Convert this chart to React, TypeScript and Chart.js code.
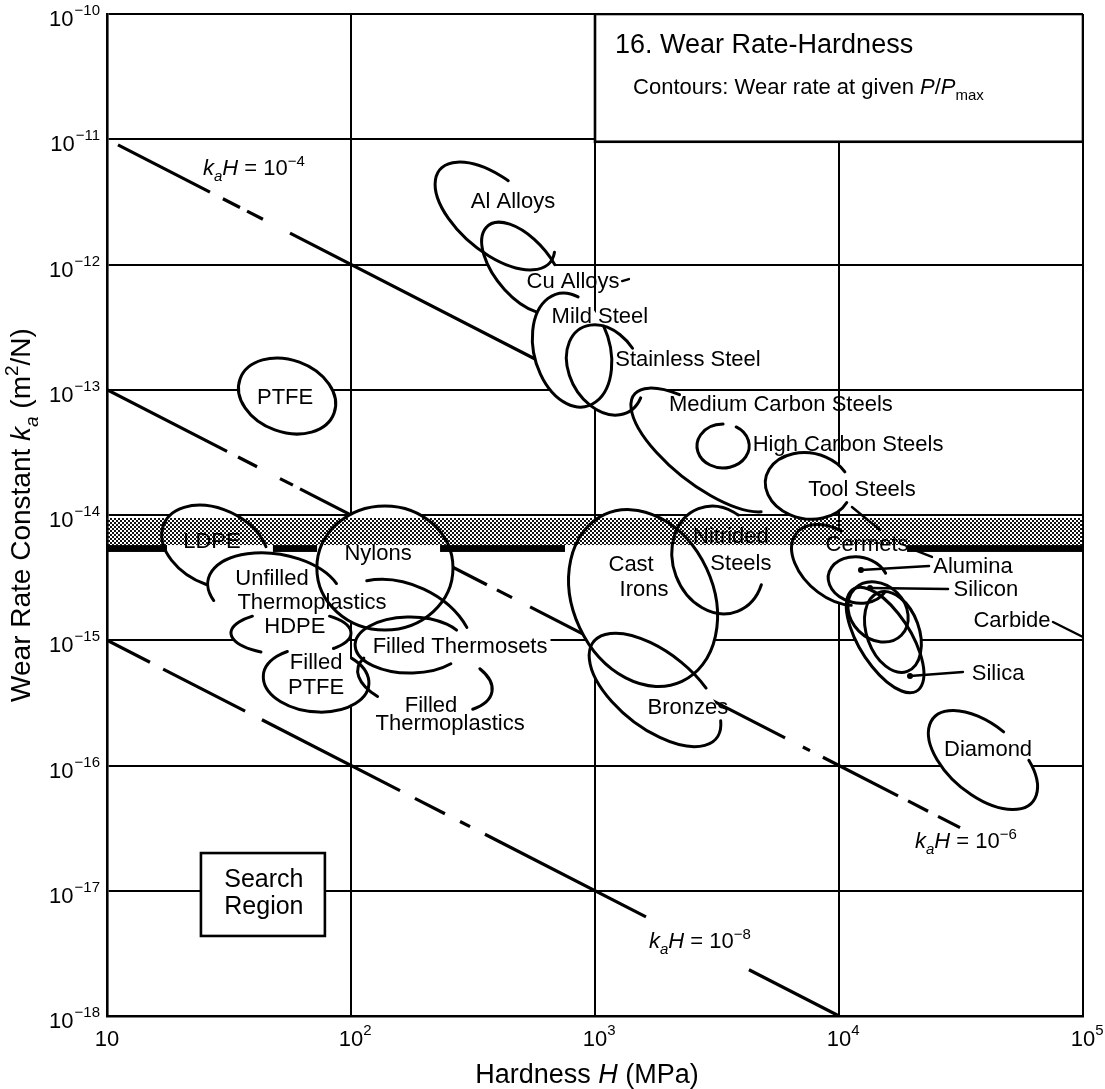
import React, { useEffect, useRef } from "react";
import { Chart, registerables } from "chart.js";
Chart.register(...registerables);

const FONT = '"Liberation Sans", Arial, Helvetica, sans-serif';

// ---- axes ----
const X_TICKS = [10, 100, 1000, 10000, 100000];
const X_TICK_EXP = ["", "2", "3", "4", "5"];
const Y_TICKS = [1e-18, 1e-17, 1e-16, 1e-15, 1e-14, 1e-13, 1e-12, 1e-11, 1e-10];
const Y_TICK_EXP = ["−18", "−17", "−16", "−15", "−14", "−13", "−12", "−11", "−10"];

// ---- constant k_a·H guide lines (k_a H, H in Pa) ----
const KH_VALUES = [1e-4, 1e-6, 1e-8];
const KH_EXP = ["−4", "−6", "−8"];
// drawn stretches of each guide line, as [log10 H start, log10 H end]
const KH1_SEGMENTS = [[1.045, 1.422], [1.475, 1.545], [1.574, 1.639], [1.75, 2.898]];
const KH2_SEGMENTS = [[1.0, 1.492], [1.537, 1.615], [1.709, 1.762], [1.791, 2.557], [2.598, 2.66], [2.734, 3.779], [3.852, 3.881], [3.934, 4.242], [4.283, 4.365], [4.406, 4.496]];
const KH3_SEGMENTS = [[1.0, 1.176], [1.23, 1.566], [1.635, 2.201], [2.262, 2.385], [2.447, 2.488], [2.549, 3.209], [3.631, 4.0]];
// label anchors [log10 H, log10 k]
const KH_LABEL_POS = [[1.393, -11.222], [4.311, -16.595], [3.221, -17.393]];

// ---- material regions ----
const REGION_NAMES = ["Al Alloys", "Cu Alloys", "Mild Steel", "Stainless Steel", "Medium Carbon Steels", "High Carbon Steels", "Tool Steels", "Cermets", "Alumina", "Silicon Carbide (a)", "Silicon Carbide (b)", "Silica", "Diamond", "Cast Irons", "Bronzes", "Nitrided Steels", "LDPE", "Nylons", "Unfilled Thermoplastics", "HDPE", "Filled PTFE", "Filled Thermosets", "Filled Thermosets (outer)", "Filled Thermoplastics", "PTFE"];
const REGION_LOG_H = [2.59, 2.705, 2.906, 3.041, 3.451, 3.525, 3.873, 3.984, 4.078, 4.16, 4.221, 4.189, 4.59, 3.197, 3.246, 3.504, 1.443, 2.139, 1.689, 1.754, 1.857, 2.242, 2.201, 2.303, 1.738];
const REGION_LOG_K = [-11.613, -12.028, -12.683, -12.842, -13.481, -13.449, -13.768, -14.399, -14.519, -14.774, -14.934, -14.998, -15.956, -14.663, -15.397, -14.359, -14.256, -14.423, -14.615, -14.942, -15.317, -15.038, -14.998, -15.317, -13.05];
// semi-axes in decades
const REGION_A = [0.295, 0.225, 0.238, 0.197, 0.369, 0.107, 0.176, 0.205, 0.123, 0.135, 0.172, 0.246, 0.266, 0.377, 0.32, 0.225, 0.23, 0.279, 0.279, 0.246, 0.217, 0.225, 0.32, 0.279, 0.205];
const REGION_B = [0.148, 0.115, 0.156, 0.143, 0.143, 0.09, 0.135, 0.131, 0.094, 0.111, 0.107, 0.107, 0.143, 0.287, 0.156, 0.184, 0.156, 0.254, 0.156, 0.09, 0.131, 0.115, 0.23, 0.131, 0.148];
const REGION_TILT = [40, 50, 75, 60, 38, 0, 10, 40, 10, 45, 70, 58, 40, 65, 38, 70, 25, 0, 10, 0, 5, 0, 25, 10, 20];
const REGION_ARCS: number[][][] = [
  [[-17, 260]], [[40, 289]], [[-105, 211]], [[-29, 264]], [[24, 233]], [[-60, 270]], [[17, 322]], [[40, 250]],
  [[20, 330]], [[0, 360]], [[0, 360]], [[-60, 300]], [[-57, 268]], [[0, 360]], [[-25, 300]], [[-46, 230]],
  [[82, 325]], [[0, 360]], [[150, 330]], [[120, 230], [-50, 45]], [[-51, 234]], [[42, 328]], [[225, 315]], [[-40, 40], [130, 200]], [[0, 360]],
];
const REGION_FILLED = [1, 1, 1, 1, 1, 1, 1, 1, 1, 1, 1, 1, 1, 1, 1, 1, 1, 1, 1, 1, 1, 1, 0, 0, 1];

// ---- region labels ----
const LABEL_TEXT = ["Al Alloys", "Cu Alloys", "Mild Steel", "Stainless Steel", "Medium Carbon Steels", "High Carbon Steels", "Tool Steels", "Cermets", "Alumina", "Silicon", "Carbide", "Silica", "Diamond", "Cast", "Irons", "Nitrided", "Steels", "Bronzes", "LDPE", "Nylons", "Unfilled", "Thermoplastics", "HDPE", "Filled Thermosets", "Filled", "PTFE", "Filled", "Thermoplastics", "PTFE"];
const LABEL_LOG_H = [2.664, 2.91, 3.02, 3.381, 3.762, 4.037, 4.094, 4.115, 4.549, 4.602, 4.709, 4.652, 4.611, 3.148, 3.201, 3.557, 3.598, 3.381, 1.43, 2.111, 1.676, 1.84, 1.77, 2.447, 1.857, 1.857, 2.328, 2.406, 1.73];
const LABEL_LOG_K = [-11.485, -12.124, -12.403, -12.747, -13.106, -13.425, -13.784, -14.224, -14.399, -14.583, -14.83, -15.253, -15.86, -14.383, -14.583, -14.16, -14.375, -15.525, -14.2, -14.295, -14.495, -14.687, -14.878, -15.038, -15.166, -15.365, -15.509, -15.653, -13.05];
const LABEL_BG = [0, 0, 0, 0, 0, 0, 0, 0, 0, 0, 0, 0, 0, 0, 0, 0, 0, 0, 0, 0, 0, 0, 0, 1, 0, 0, 0, 0, 0];

// ---- leader lines [logH1, logK1, logH2, logK2, dot] ----
const LEADERS = [
  [4.09, -14.439, 4.369, -14.407, 1],
  [4.127, -14.583, 4.447, -14.591, 1],
  [4.877, -14.854, 5.0, -14.974, 0],
  [4.291, -15.285, 4.508, -15.253, 1],
  [4.279, -14.256, 4.381, -14.335, 0],
  [4.053, -13.936, 4.168, -14.12, 0],
  [3.111, -12.132, 3.139, -12.116, 0],
];

// ---- search band ----
const BAND_LOG_K = [-14.024, -14.24];
const BAND_EDGE_LOG_K = [-14.24, -14.295];
const BAND_EDGE_SEGMENTS = [[1.0, 1.246], [1.68, 1.861], [2.365, 2.877], [4.279, 5.0]];

// ---- boxes ----
const TITLE_BOX = [3.0, 5.0, -10.0, -11.02]; // logH min,max, logK top,bottom
const TITLE_TEXT = "16. Wear Rate-Hardness";
const TITLE_POS = [3.082, -10.232];
const SUBTITLE_POS = [3.156, -10.575];
const SEARCH_BOX = [1.385, 1.893, -16.699, -17.361];
const SEARCH_TEXT = ["Search", "Region"];
const SEARCH_POS = [[1.643, -16.898], [1.643, -17.114]];

type Part = { t: string; i?: boolean; sub?: boolean; sup?: boolean };

function fontOf(p: Part, size: number) {
  return `${p.i ? "italic " : ""}${p.sub || p.sup ? Math.round(size * 0.68) : size}px ${FONT}`;
}
function measureParts(ctx: CanvasRenderingContext2D, parts: Part[], size: number) {
  let w = 0;
  for (const p of parts) { ctx.font = fontOf(p, size); w += ctx.measureText(p.t).width; }
  return w;
}
function drawParts(ctx: CanvasRenderingContext2D, parts: Part[], x: number, y: number, size: number, align: "left" | "center" | "right") {
  const w = measureParts(ctx, parts, size);
  let cx = align === "left" ? x : align === "center" ? x - w / 2 : x - w;
  ctx.textAlign = "left";
  ctx.textBaseline = "alphabetic";
  for (const p of parts) {
    ctx.font = fontOf(p, size);
    const dy = p.sub ? size * 0.28 : p.sup ? -size * 0.42 : 0;
    ctx.fillText(p.t, cx, y + dy);
    cx += ctx.measureText(p.t).width;
  }
  return w;
}

function lineData(kh: number, segs: number[][]) {
  const pts: { x: number; y: number | null }[] = [];
  for (const [a, b] of segs) {
    const h1 = Math.pow(10, a), h2 = Math.pow(10, b);
    pts.push({ x: h1, y: kh / (h1 * 1e6) });
    pts.push({ x: h2, y: kh / (h2 * 1e6) });
    pts.push({ x: h2 * 1.001, y: null });
  }
  return pts;
}

let bandPattern: CanvasPattern | null = null;
function getPattern(ctx: CanvasRenderingContext2D) {
  if (bandPattern) return bandPattern;
  const c = document.createElement("canvas");
  c.width = 4; c.height = 4;
  const g = c.getContext("2d")!;
  g.fillStyle = "#111";
  g.fillRect(0, 0, 2, 2);
  g.fillRect(2, 2, 2, 2);
  bandPattern = ctx.createPattern(c, "repeat");
  return bandPattern!;
}

const mapPlugin = {
  id: "wearMap",
  afterDatasetsDraw(chart: any) {
    const { ctx, chartArea } = chart;
    const xs = chart.scales.x, ys = chart.scales.y;
    const px = (lh: number) => xs.getPixelForValue(Math.pow(10, lh));
    const py = (lk: number) => ys.getPixelForValue(Math.pow(10, lk));
    const dec = px(2) - px(1);
    const rad = Math.PI / 180;
    const LS = 22;
    ctx.save();
    ctx.beginPath();
    ctx.rect(chartArea.left, chartArea.top, chartArea.right - chartArea.left, chartArea.bottom - chartArea.top);
    ctx.clip();

    // white fills of regions
    ctx.fillStyle = "#fff";
    for (let i = 0; i < REGION_NAMES.length; i++) {
      if (!REGION_FILLED[i]) continue;
      ctx.beginPath();
      ctx.ellipse(px(REGION_LOG_H[i]), py(REGION_LOG_K[i]), REGION_A[i] * dec, REGION_B[i] * dec, REGION_TILT[i] * rad, 0, Math.PI * 2);
      ctx.fill();
    }
    // label backgrounds
    for (let i = 0; i < LABEL_TEXT.length; i++) {
      if (!LABEL_BG[i]) continue;
      ctx.font = `${LS}px ${FONT}`;
      const w = ctx.measureText(LABEL_TEXT[i]).width;
      const cx = px(LABEL_LOG_H[i]), cy = py(LABEL_LOG_K[i]);
      ctx.fillStyle = "#fff";
      ctx.fillRect(cx - w / 2 - 3, cy - LS * 0.55, w + 6, LS * 1.1);
    }

    // search band
    const bx0 = chartArea.left, bx1 = chartArea.right;
    ctx.fillStyle = getPattern(ctx);
    const bt = py(BAND_LOG_K[0]), bb = py(BAND_LOG_K[1]);
    ctx.fillRect(bx0, bt, bx1 - bx0, bb - bt);
    ctx.fillStyle = "#000";
    const et = py(BAND_EDGE_LOG_K[0]), eb = py(BAND_EDGE_LOG_K[1]);
    for (const [a, b] of BAND_EDGE_SEGMENTS) ctx.fillRect(px(a), et, px(b) - px(a), eb - et);

    // title box & search box
    for (const bx of [TITLE_BOX, SEARCH_BOX]) {
      const x0 = px(bx[0]), x1 = px(bx[1]), y0 = py(bx[2]), y1 = py(bx[3]);
      ctx.fillStyle = "#fff";
      ctx.fillRect(x0, y0, x1 - x0, y1 - y0);
      ctx.strokeStyle = "#000";
      ctx.lineWidth = 2.6;
      ctx.strokeRect(x0, y0, x1 - x0, y1 - y0);
    }

    // outlines
    ctx.strokeStyle = "#000";
    ctx.lineWidth = 3;
    ctx.lineCap = "round";
    for (let i = 0; i < REGION_NAMES.length; i++) {
      for (const [s, e] of REGION_ARCS[i]) {
        ctx.beginPath();
        ctx.ellipse(px(REGION_LOG_H[i]), py(REGION_LOG_K[i]), REGION_A[i] * dec, REGION_B[i] * dec, REGION_TILT[i] * rad, s * rad, e * rad);
        ctx.stroke();
      }
    }

    // leaders
    ctx.lineWidth = 2.4;
    for (const l of LEADERS) {
      ctx.beginPath();
      ctx.moveTo(px(l[0]), py(l[1]));
      ctx.lineTo(px(l[2]), py(l[3]));
      ctx.stroke();
      if (l[4]) {
        ctx.beginPath();
        ctx.arc(px(l[0]), py(l[1]), 3, 0, Math.PI * 2);
        ctx.fillStyle = "#000";
        ctx.fill();
      }
    }

    // region labels
    ctx.fillStyle = "#000";
    for (let i = 0; i < LABEL_TEXT.length; i++) {
      drawParts(ctx, [{ t: LABEL_TEXT[i] }], px(LABEL_LOG_H[i]), py(LABEL_LOG_K[i]) + LS * 0.36, LS, "center");
    }

    // k_a H labels
    for (let i = 0; i < KH_VALUES.length; i++) {
      drawParts(ctx, [{ t: "k", i: true }, { t: "a", i: true, sub: true }, { t: "H", i: true }, { t: " = 10" }, { t: KH_EXP[i], sup: true }],
        px(KH_LABEL_POS[i][0]), py(KH_LABEL_POS[i][1]) + 22 * 0.36, 22, "left");
    }

    // title box text
    drawParts(ctx, [{ t: TITLE_TEXT }], px(TITLE_POS[0]), py(TITLE_POS[1]) + 27 * 0.36, 27, "left");
    drawParts(ctx, [{ t: "Contours: Wear rate at given " }, { t: "P", i: true }, { t: "/" }, { t: "P", i: true }, { t: "max", sub: true }],
      px(SUBTITLE_POS[0]), py(SUBTITLE_POS[1]) + 22 * 0.36, 22, "left");
    for (let i = 0; i < SEARCH_TEXT.length; i++) {
      drawParts(ctx, [{ t: SEARCH_TEXT[i] }], px(SEARCH_POS[i][0]), py(SEARCH_POS[i][1]) + 25 * 0.36, 25, "center");
    }
    ctx.restore();
  },
  afterDraw(chart: any) {
    const { ctx, chartArea } = chart;
    const xs = chart.scales.x, ys = chart.scales.y;
    ctx.save();
    ctx.fillStyle = "#000";
    // y tick labels
    for (let i = 0; i < Y_TICKS.length; i++) {
      const y = ys.getPixelForValue(Y_TICKS[i]);
      ctx.font = `15px ${FONT}`;
      const ew = ctx.measureText(Y_TICK_EXP[i]).width;
      const ex = chartArea.left - 7 - ew;
      ctx.textAlign = "left";
      ctx.textBaseline = "alphabetic";
      ctx.fillText(Y_TICK_EXP[i], ex, y + 1);
      ctx.font = `22px ${FONT}`;
      ctx.textAlign = "right";
      ctx.fillText("10", ex - 1, y + 12);
    }
    // x tick labels
    for (let i = 0; i < X_TICKS.length; i++) {
      const x = xs.getPixelForValue(X_TICKS[i]);
      ctx.font = `22px ${FONT}`;
      ctx.textAlign = "center";
      ctx.textBaseline = "alphabetic";
      const w = ctx.measureText("10").width;
      ctx.fillText("10", x, chartArea.bottom + 30);
      if (X_TICK_EXP[i]) {
        ctx.font = `15px ${FONT}`;
        ctx.textAlign = "left";
        ctx.fillText(X_TICK_EXP[i], x + w / 2, chartArea.bottom + 19);
      }
    }
    // axis titles
    drawParts(ctx, [{ t: "Hardness " }, { t: "H", i: true }, { t: " (MPa)" }], (chartArea.left + chartArea.right) / 2 - 8, chartArea.bottom + 67, 27, "center");
    ctx.translate(30, (chartArea.top + chartArea.bottom) / 2);
    ctx.rotate(-Math.PI / 2);
    drawParts(ctx, [{ t: "Wear Rate Constant " }, { t: "k", i: true }, { t: "a", i: true, sub: true }, { t: " (m" }, { t: "2", sup: true }, { t: "/N)" }], 0, 0, 28, "center");
    ctx.restore();
  },
};

export default function App() {
  const ref = useRef<HTMLCanvasElement>(null);
  useEffect(() => {
    const segs = [KH1_SEGMENTS, KH2_SEGMENTS, KH3_SEGMENTS];
    const chart = new Chart(ref.current!, {
      type: "line",
      data: {
        datasets: KH_VALUES.map((kh, i) => ({
          label: `kaH = 1e${Math.log10(kh)}`,
          data: lineData(kh, segs[i]) as any,
          borderColor: "#000",
          borderWidth: 3.2,
          pointRadius: 0,
          spanGaps: false,
          tension: 0,
          borderCapStyle: "butt" as const,
        })),
      },
      options: {
        responsive: false,
        animation: false,
        devicePixelRatio: 1,
        parsing: false as any,
        layout: { padding: { top: 14, right: 22, left: 0, bottom: 0 } },
        plugins: { legend: { display: false }, tooltip: { enabled: false } },
        scales: {
          x: {
            type: "logarithmic",
            min: 10,
            max: 100000,
            afterBuildTicks: (s: any) => { s.ticks = X_TICKS.map((v) => ({ value: v })); },
            afterFit: (s: any) => { s.height = 73; },
            ticks: { display: false },
            grid: { color: "#000", lineWidth: 2, drawTicks: false },
            border: { color: "#000", width: 2.6 },
          },
          y: {
            type: "logarithmic",
            min: 1e-18,
            max: 1e-10,
            afterBuildTicks: (s: any) => { s.ticks = Y_TICKS.map((v) => ({ value: v })); },
            afterFit: (s: any) => { s.width = 107; },
            ticks: { display: false },
            grid: { color: "#000", lineWidth: 2, drawTicks: false },
            border: { color: "#000", width: 2.6 },
          },
        },
      },
      plugins: [mapPlugin],
    } as any);
    return () => chart.destroy();
  }, []);
  return (
    <div style={{ position: "fixed", left: 0, top: 0, width: 1105, height: 1089, background: "#fff" }}>
      <canvas ref={ref} width={1105} height={1089} style={{ display: "block", width: 1105, height: 1089 }} />
    </div>
  );
}
